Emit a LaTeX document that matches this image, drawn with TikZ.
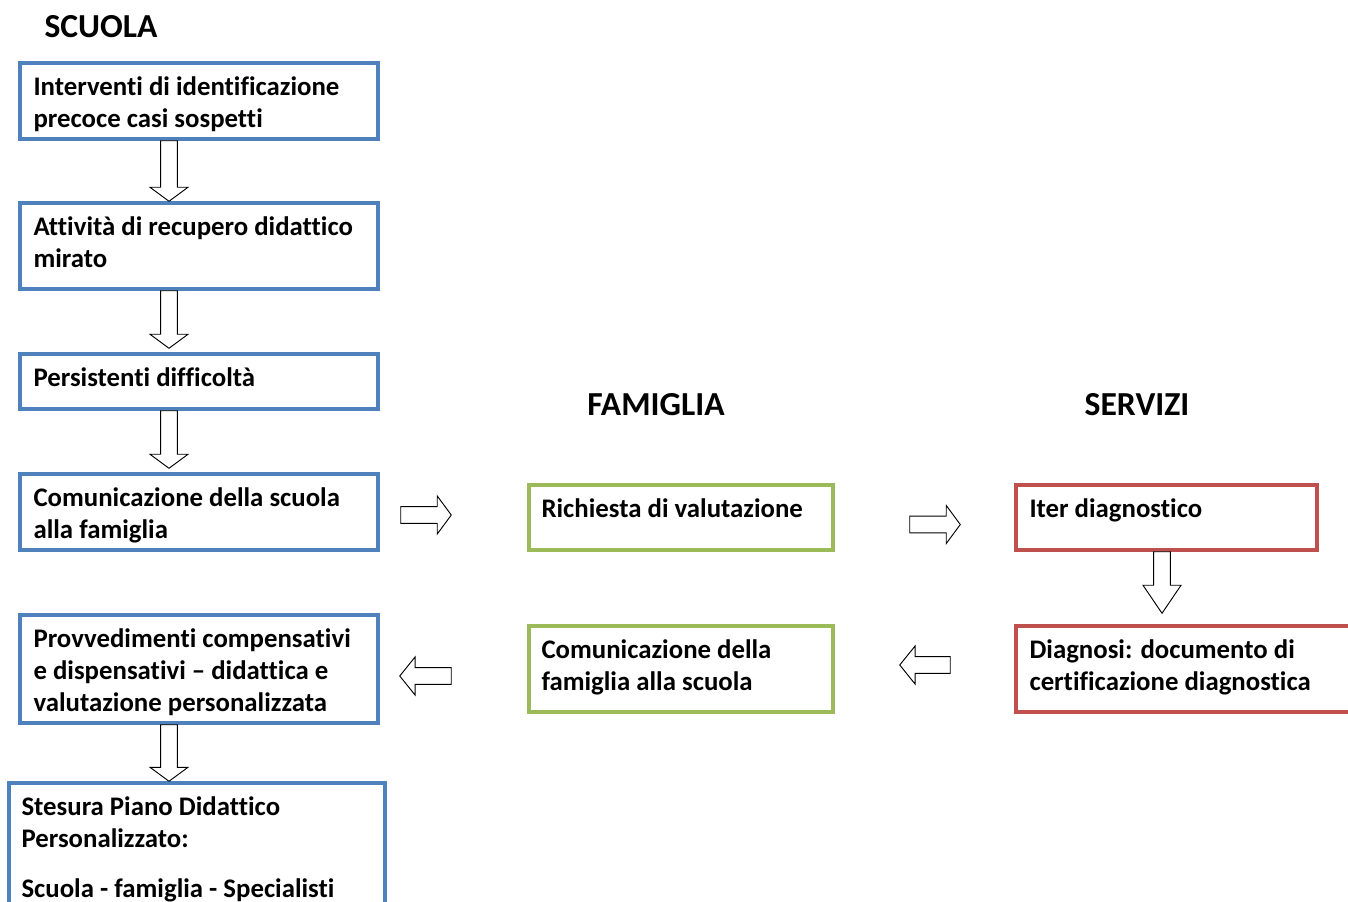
\documentclass[tikz,border=0pt]{standalone}
\usepackage{fontspec}
\setmainfont{Carlito}[Ligatures=NoCommon]
\usetikzlibrary{calc,fit}

\definecolor{schoolblue}{RGB}{79,129,189}
\definecolor{familygreen}{RGB}{155,187,89}
\definecolor{servicered}{RGB}{192,80,77}

\tikzset{
  boxframe/.style={draw, line width=2.6pt, inner sep=0pt, fill=white},
  schoolbox/.style={boxframe, draw=schoolblue},
  familybox/.style={boxframe, draw=familygreen},
  servicebox/.style={boxframe, draw=servicered},
  boxtext/.style={anchor=north west, inner sep=0pt, align=left,
    font=\fontsize{20.1pt}{24pt}\selectfont\bfseries},
  heading/.style={inner sep=0pt, font=\fontsize{25.2pt}{30pt}\selectfont\bfseries},
  blockarr/.style={draw=black, fill=white, line width=0.7pt, line join=miter},
}

% hollow block arrow from coordinate #2 to tip #3; #1 = head length
\newcommand{\flowarrow}[3][10.5pt]{%
  \coordinate (fa-h) at ($(#3)!#1!(#2)$);
  \draw[blockarr]
    ($(#2)!6.3pt!90:(#3)$) -- ($(fa-h)!6.3pt!-90:(#2)$) --
    ($(fa-h)!14.25pt!-90:(#2)$) -- (#3) --
    ($(fa-h)!14.25pt!90:(#2)$) -- ($(fa-h)!6.3pt!90:(#2)$) --
    ($(#2)!6.3pt!-90:(#3)$) -- cycle;}

\begin{document}
\begin{tikzpicture}[x=0.75pt,y=-0.75pt]
\useasboundingbox (0,0) rectangle (1348,901);
\clip (0,0) rectangle (1348,901);

% column headings
\node[heading] (hs) at (101,27) {SCUOLA};
\node[heading] (hf) at (656,405) {FAMIGLIA};
\node[heading] (hv) at (1137,405) {SERVIZI};

% school column
\node[schoolbox, fit={(20,63) (378,139)}] (A) {};
\node[schoolbox, fit={(20,203) (378,289)}] (B) {};
\node[schoolbox, fit={(20,354) (378,409)}] (C) {};
\node[schoolbox, fit={(20,474) (378,550)}] (D) {};
\node[schoolbox, fit={(20,615) (378,723)}] (E) {};
\node[schoolbox, fit={(9,783) (385,960)}] (F) {};

% family column
\node[familybox, fit={(529,485) (833,550)}] (G1) {};
\node[familybox, fit={(529,626) (833,712)}] (G2) {};

% services column
\node[servicebox, fit={(1016,485) (1317,550)}] (R1) {};
\node[servicebox, fit={(1016,626) (1400,712)}] (R2) {};

% box texts
\node[boxtext] (At) at ($(A.north west)+(15,15)$) {Interventi di identificazione\\precoce casi sospetti};
\node[boxtext] (Bt) at ($(B.north west)+(15,15)$) {Attività di recupero didattico\\mirato};
\node[boxtext] (Ct) at ($(C.north west)+(15,15)$) {Persistenti difficoltà};
\node[boxtext] (Dt) at ($(D.north west)+(15,15)$) {Comunicazione della scuola\\alla famiglia};
\node[boxtext] (Et) at ($(E.north west)+(15,15)$) {Provvedimenti compensativi\\e dispensativi – didattica e\\valutazione personalizzata};
\node[boxtext] (Ft) at ($(F.north west)+(14,15)$) {Stesura Piano Didattico\\Personalizzato:\\[13.5pt]Scuola - famiglia - Specialisti};
\node[boxtext] (G1t) at ($(G1.north west)+(14,15)$) {Richiesta di valutazione};
\node[boxtext] (G2t) at ($(G2.north west)+(14,15)$) {Comunicazione della\\famiglia alla scuola};
\node[boxtext] (R1t) at ($(R1.north west)+(15,15)$) {Iter diagnostico};
\node[boxtext] (R2t) at ($(R2.north west)+(15,15)$) {Diagnosi: documento di\\certificazione diagnostica};

% vertical arrows in the school column
\coordinate (ab-s) at ($(A.south)+(-30,0)$);
\coordinate (ab-t) at (ab-s |- B.north);
\flowarrow{ab-s}{ab-t}
\coordinate (bc-s) at ($(B.south)+(-30,0)$);
\coordinate (bc-t) at ($(bc-s |- C.north)+(0,-4)$);
\flowarrow{bc-s}{bc-t}
\coordinate (cd-s) at ($(C.south)+(-30,0)$);
\coordinate (cd-t) at ($(cd-s |- D.north)+(0,-4)$);
\flowarrow{cd-s}{cd-t}
\coordinate (ef-s) at ($(E.south)+(-30,0)$);
\coordinate (ef-t) at (ef-s |- F.north);
\flowarrow{ef-s}{ef-t}

% school -> family -> services
\coordinate (dg-s) at ($(D.east)+(21,3)$);
\coordinate (dg-t) at ($(G1.west)+(-76,-2.5)$);
\flowarrow{dg-s}{dg-t}
\coordinate (gr-s) at ($(G1.east)+(75,7)$);
\coordinate (gr-t) at ($(R1.west)+(-54,7)$);
\flowarrow{gr-s}{gr-t}

% services: diagnostic path
\coordinate (rr-s) at ($(R1.south)+(-4.5,0)$);
\coordinate (rr-t) at ($(rr-s |- R2.north)+(0,-11)$);
\flowarrow[21pt]{rr-s}{rr-t}

% back to family and school
\coordinate (rg-s) at ($(R2.west)+(-64,-4)$);
\coordinate (rg-t) at ($(G2.east)+(65,-4)$);
\flowarrow[11.5pt]{rg-s}{rg-t}
\coordinate (ge-s) at ($(G2.west)+(-76,7)$);
\coordinate (ge-t) at ($(E.east)+(20,7)$);
\flowarrow[11.5pt]{ge-s}{ge-t}
\end{tikzpicture}
\end{document}
